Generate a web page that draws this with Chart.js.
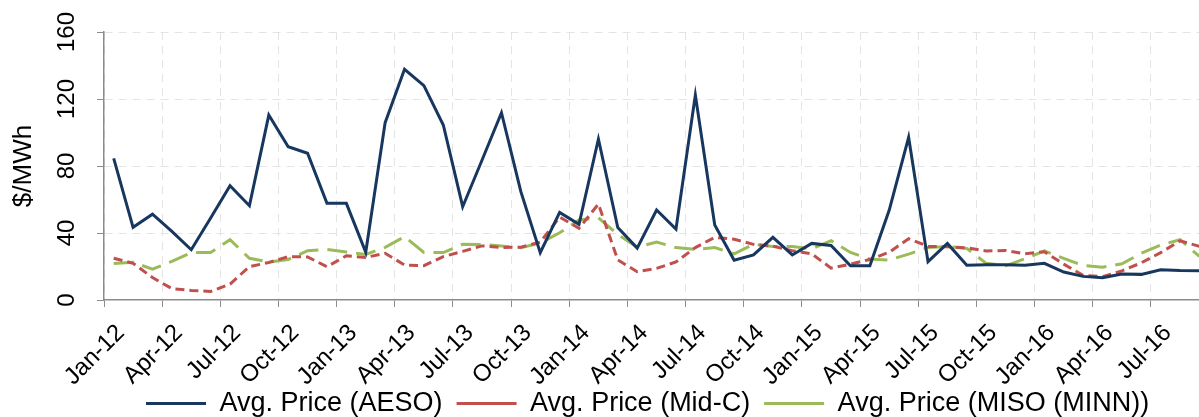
<!DOCTYPE html>
<html>
<head>
<meta charset="utf-8">
<script src="https://cdn.jsdelivr.net/npm/chart.js@4"></script>
<style>
  html, body { margin: 0; padding: 0; background: #fff; overflow: hidden; }
  #wrap { width: 1199px; height: 417px; overflow: hidden; position: relative; }
  canvas { display: block; }
</style>
</head>
<body>
<div id="wrap"><canvas id="priceChart" width="1232" height="441"></canvas></div>
<script>
// monthly categories, Jan-12 .. Sep-16
const months = [
  'Jan-12', 'Feb-12', 'Mar-12', 'Apr-12', 'May-12', 'Jun-12', 'Jul-12', 'Aug-12', 'Sep-12', 'Oct-12', 'Nov-12', 'Dec-12',
  'Jan-13', 'Feb-13', 'Mar-13', 'Apr-13', 'May-13', 'Jun-13', 'Jul-13', 'Aug-13', 'Sep-13', 'Oct-13', 'Nov-13', 'Dec-13',
  'Jan-14', 'Feb-14', 'Mar-14', 'Apr-14', 'May-14', 'Jun-14', 'Jul-14', 'Aug-14', 'Sep-14', 'Oct-14', 'Nov-14', 'Dec-14',
  'Jan-15', 'Feb-15', 'Mar-15', 'Apr-15', 'May-15', 'Jun-15', 'Jul-15', 'Aug-15', 'Sep-15', 'Oct-15', 'Nov-15', 'Dec-15',
  'Jan-16', 'Feb-16', 'Mar-16', 'Apr-16', 'May-16', 'Jun-16', 'Jul-16', 'Aug-16', 'Sep-16'
];

// $/MWh
const aesoPrice = [
  84.5, 43.4, 51.2, 41, 30, 49, 68.2, 56.3, 110.4, 91.5, 87.6, 57.7,
  57.7, 28.5, 105.9, 137.7, 128, 104.5, 55.7, 83.6, 111.8, 64.7, 28.3, 52.3,
  45.2, 96.1, 43.2, 31, 53.7, 42.3, 122.4, 44.8, 23.8, 26.9, 37.4, 26.9,
  33.8, 32.6, 20.5, 20.5, 53.7, 97.1, 22.9, 33.8, 20.8, 21.1, 21, 20.7,
  21.9, 16.7, 14.1, 13.3, 15.5, 15.3, 18.1, 17.6, 17.5
];
const midcPrice = [
  24.9, 21.9, 13.4, 6.8, 5.7, 5.1, 9.5, 19.9, 22.4, 25.9, 25.7, 19.9,
  26.4, 25.4, 27.9, 20.9, 20.5, 25.9, 29, 32.3, 31.4, 31.5, 34.5, 49.5,
  42.8, 57.3, 23.9, 16.9, 18.9, 22.7, 31.3, 37.4, 36.3, 33.2, 32.1, 29.4,
  27.6, 19, 21.4, 24.2, 28.5, 36.6, 32, 31.8, 31.2, 29.3, 29.6, 27.6,
  28.8, 21.4, 14.7, 13.9, 17.4, 22.2, 28.3, 35.3, 32
];
const misoPrice = [
  21.8, 22.5, 18.4, 23.1, 28.3, 28.4, 36, 24.9, 22.7, 24.2, 29.4, 30.2,
  28.7, 27.2, 31.4, 37.8, 28.4, 28.3, 33.3, 33.2, 32.2, 31.2, 34, 40.1,
  47.8, 49, 39.1, 31.6, 34.6, 31.3, 30.2, 31.3, 27.5, 33.3, 32, 32,
  30.5, 35.4, 28.4, 24.4, 23.9, 27.4, 31.3, 32, 30.8, 21.9, 20.4, 24.6,
  29.4, 24.8, 20.6, 19.6, 21.6, 27.9, 32.8, 36, 26
];

const yTicks = [0, 40, 80, 120, 160];

const gridColor = '#e4e4e4';
const axisColor = '#8c8c8c';
const clear = 'rgba(0,0,0,0)';

Chart.defaults.font.family = '"Liberation Sans", Arial, sans-serif';
Chart.defaults.color = '#000';

// move the legend up/left a bit so it tucks under the rotated month labels
const legendNudge = {
  id: 'legendNudge',
  afterLayout(chart) {
    const lg = chart.legend;
    if (lg) {
      lg.left -= 9;
      lg.right -= 9;
      lg.top -= 14;
      lg.bottom -= 14;
    }
  },
};

const ctx = document.getElementById('priceChart').getContext('2d');

new Chart(ctx, {
  type: 'line',
  data: {
    labels: months,
    datasets: [
      {
        label: 'Avg. Price (AESO)',
        data: aesoPrice,
        borderColor: '#17375e',
        backgroundColor: '#17375e',
        borderWidth: 3,
        pointRadius: 0,
        tension: 0,
        fill: false,
      },
      {
        label: 'Avg. Price (Mid-C)',
        data: midcPrice,
        borderColor: '#c0504d',
        backgroundColor: '#c0504d',
        borderWidth: 3,
        borderDash: [9, 5],
        pointRadius: 0,
        tension: 0,
        fill: false,
      },
      {
        label: 'Avg. Price (MISO (MINN))',
        data: misoPrice,
        borderColor: '#9bbb59',
        backgroundColor: '#9bbb59',
        borderWidth: 3,
        borderDash: [20, 9],
        pointRadius: 0,
        tension: 0,
        fill: false,
      },
    ],
  },
  options: {
    responsive: false,
    animation: false,
    devicePixelRatio: 1,
    layout: { padding: { top: 32, right: 20, bottom: 0, left: 0 } },
    scales: {
      x: {
        type: 'category',
        offset: true,
        grid: {
          offset: true,
          color: (c) => (c.index % 3 === 0 ? gridColor : clear),
          tickColor: (c) => (c.index % 3 === 0 ? axisColor : clear),
          tickLength: 7,
          tickBorderDash: [],
        },
        border: { color: axisColor, width: 1.5, dash: [8, 6] },
        ticks: {
          autoSkip: false,
          minRotation: 45,
          maxRotation: 45,
          padding: 12,
          labelOffset: 7,
          font: { size: 24 },
          callback: function (value, index) {
            return index % 3 === 0 ? this.getLabelForValue(value) : '';
          },
        },
        afterFit: (scale) => { scale.height = 90; },
      },
      y: {
        min: 0,
        max: 160,
        afterBuildTicks: (scale) => { scale.ticks = yTicks.map((v) => ({ value: v })); },
        grid: {
          color: (c) => (c.tick && c.tick.value === 0 ? clear : gridColor),
          tickColor: axisColor,
          tickLength: 7,
          tickBorderDash: [],
        },
        border: { color: axisColor, width: 1.5, dash: [8, 6] },
        ticks: {
          minRotation: 90,
          maxRotation: 90,
          crossAlign: 'center',
          padding: 10,
          font: { size: 24 },
        },
        title: {
          display: true,
          text: '$/MWh',
          font: { size: 26 },
          padding: { top: 8, bottom: 0 },
        },
        afterFit: (scale) => { scale.width = 104; },
      },
    },
    plugins: {
      legend: {
        display: true,
        position: 'bottom',
        fullSize: false,
        labels: {
          usePointStyle: true,
          pointStyle: 'line',
          pointStyleWidth: 60,
          padding: 14,
          font: { size: 27 },
          color: '#000',
        },
      },
      tooltip: { enabled: false },
    },
  },
  plugins: [legendNudge],
});
</script>
</body>
</html>
